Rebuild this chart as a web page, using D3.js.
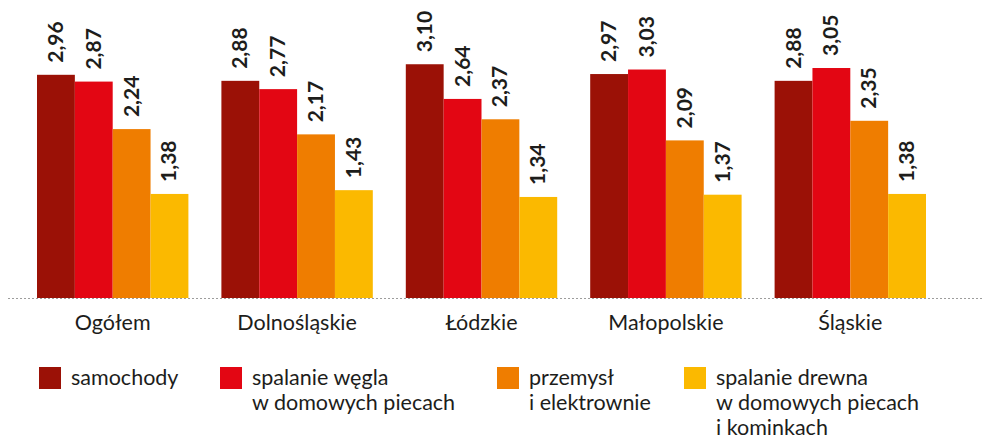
<!DOCTYPE html>
<html>
<head>
<meta charset="utf-8">
<script src="https://cdn.jsdelivr.net/npm/d3@7"></script>
<style>
  body { margin: 0; background: #fff; }
  svg text { font-family: Lato, 'Open Sans', sans-serif; fill: #1d1d1b; }
</style>
</head>
<body>
<svg id="chart" width="984" height="437"></svg>
<script>
// Data
const regions = ['Ogółem', 'Dolnośląskie', 'Łódzkie', 'Małopolskie', 'Śląskie'];
const sources = ['samochody', 'wegiel', 'przemysl', 'drewno'];
const samochody = [2.96, 2.88, 3.10, 2.97, 2.88];
const wegiel    = [2.87, 2.77, 2.64, 3.03, 3.05];
const przemysl  = [2.24, 2.17, 2.37, 2.09, 2.35];
const drewno    = [1.38, 1.43, 1.34, 1.37, 1.38];
const legendLabels = [
  ['samochody'],
  ['spalanie węgla', 'w domowych piecach'],
  ['przemysł', 'i elektrownie'],
  ['spalanie drewna', 'w domowych piecach', 'i kominkach']
];

const seriesValues = [samochody, wegiel, przemysl, drewno];
const data = regions.map((r, i) => ({
  region: r,
  values: sources.map((s, j) => ({ key: s, value: seriesValues[j][i] }))
}));

const svg = d3.select('#chart');
const baseline = 298;

const color = d3.scaleOrdinal()
  .domain(sources)
  .range(['#9b1106', '#e30613', '#ef7d00', '#fbb900']);

// Group positions: step 184.4, bars 151 wide
const x0 = d3.scaleBand()
  .domain(regions)
  .range([37, 37 + 184.4 * 5 - 33])
  .paddingInner(33 / 184.4)
  .paddingOuter(0)
  .align(0);

const x1 = d3.scaleBand()
  .domain(sources)
  .range([0, x0.bandwidth()])
  .padding(0);

const y = d3.scaleLinear()
  .domain([0, 3.952])
  .range([baseline, 0]);

// Baseline (dotted)
svg.append('line')
  .attr('x1', 8).attr('x2', 984)
  .attr('y1', baseline + 0.5).attr('y2', baseline + 0.5)
  .attr('stroke', '#9d9d9c')
  .attr('stroke-width', 1)
  .attr('stroke-dasharray', '2,2');

const groups = svg.selectAll('.group')
  .data(data)
  .join('g')
    .attr('class', 'group')
    .attr('transform', d => `translate(${x0(d.region)},0)`);

groups.selectAll('rect')
  .data(d => d.values)
  .join('rect')
    .attr('x', d => x1(d.key))
    .attr('width', x1.bandwidth())
    .attr('y', d => y(d.value))
    .attr('height', d => baseline - y(d.value))
    .attr('fill', d => color(d.key));

// Value labels, rotated
groups.selectAll('.val')
  .data(d => d.values)
  .join('text')
    .attr('class', 'val')
    .attr('transform', d => `translate(${x1(d.key) + x1.bandwidth() / 2 + 7},${y(d.value) - 12}) rotate(-90)`)
    .attr('text-anchor', 'start')
    .style('font-size', '21px')
    .style('font-weight', 'bold')
    .text(d => d3.format('.2f')(d.value).replace('.', ','));

// Category axis labels
const xAxisG = svg.append('g')
  .attr('transform', `translate(0,${baseline})`)
  .call(d3.axisBottom(x0).tickSize(0).tickPadding(17));
xAxisG.select('.domain').remove();
xAxisG.selectAll('text')
  .style('font-size', '21.5px')
  .style('font-family', 'Lato, sans-serif')
  .attr('fill', '#1d1d1b');

// Legend
const legendX = [39, 220, 497, 684];
const legend = svg.selectAll('.legend')
  .data(sources)
  .join('g')
    .attr('class', 'legend')
    .attr('transform', (d, i) => `translate(${legendX[i]},367)`);

legend.append('rect')
  .attr('width', 22).attr('height', 22)
  .attr('fill', d => color(d));

legend.append('text')
  .attr('x', 32)
  .attr('y', 18)
  .style('font-size', '21.5px')
  .selectAll('tspan')
  .data((d, i) => legendLabels[i])
  .join('tspan')
    .attr('x', 32)
    .attr('dy', (d, i) => i === 0 ? 0 : 25)
    .text(d => d);
</script>
</body>
</html>
